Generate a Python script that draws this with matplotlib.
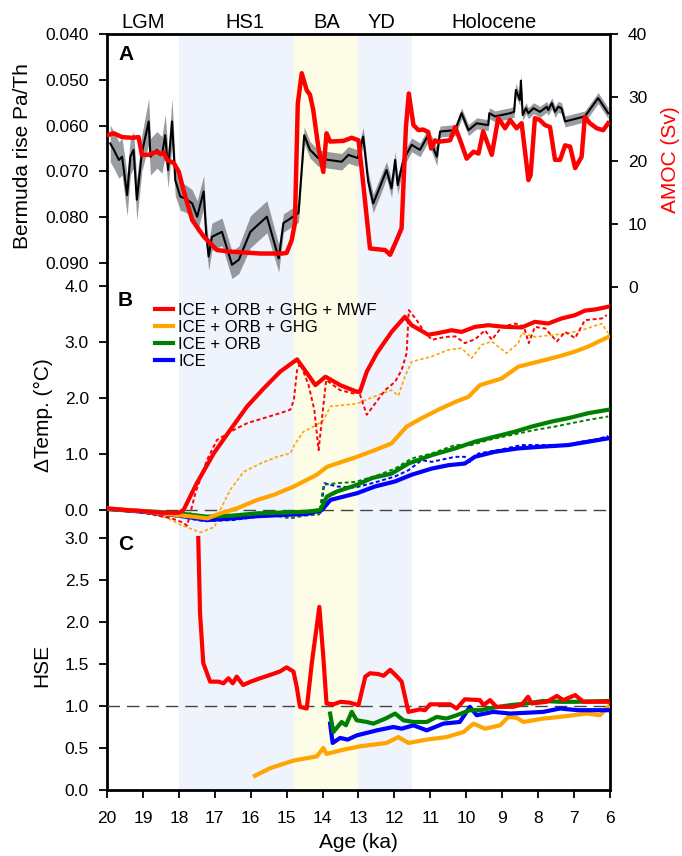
import matplotlib
matplotlib.use('Agg')
import matplotlib.pyplot as plt
import matplotlib.transforms as mtransforms

plt.rcParams['font.family'] = ['Liberation Sans', 'DejaVu Sans']

# ---- panel A: Bermuda rise Pa/Th (left, inverted) and AMOC (right)
pa_age = [19.91, 19.81, 19.67, 19.58, 19.44, 19.35, 19.26, 19.17, 19.03, 18.84, 18.79, 18.61,
          18.47, 18.38, 18.30, 18.19, 18.10, 17.96, 17.82, 17.63, 17.49, 17.31, 17.24, 17.17,
          17.08, 16.80, 16.52, 16.33, 16.01, 15.55, 15.22, 15.09, 14.67, 14.51, 14.35, 14.12,
          13.84, 13.47, 13.28, 13.02, 12.87, 12.73, 12.59, 12.40, 12.22, 12.08, 11.98, 11.91,
          11.75, 11.52, 11.29, 11.06, 10.82, 10.73, 10.31, 10.13, 9.94, 9.71, 9.39, 9.36, 9.20,
          8.78, 8.67, 8.62, 8.51, 8.48, 8.43, 8.34, 8.27, 8.13, 7.95, 7.76, 7.72, 7.62, 7.53,
          7.44, 7.35, 7.25, 6.70, 6.33, 6.05]
pa_th = [0.0639, 0.0653, 0.0675, 0.0668, 0.0752, 0.0668, 0.0653, 0.0762, 0.0660, 0.0591, 0.0668,
         0.0653, 0.0664, 0.0621, 0.0697, 0.0591, 0.0719, 0.0755, 0.0759, 0.0770, 0.0799, 0.0744,
         0.0835, 0.0886, 0.0843, 0.0832, 0.0904, 0.0893, 0.0832, 0.0799, 0.0890, 0.0813, 0.0791,
         0.0621, 0.0653, 0.0671, 0.0675, 0.0679, 0.0664, 0.0671, 0.0624, 0.0722, 0.0770, 0.0733,
         0.0697, 0.0737, 0.0675, 0.0730, 0.0675, 0.0642, 0.0653, 0.0621, 0.0668, 0.0613, 0.0610,
         0.0573, 0.0610, 0.0595, 0.0599, 0.0573, 0.0580, 0.0573, 0.0570, 0.0522, 0.0544, 0.0502,
         0.0577, 0.0562, 0.0573, 0.0562, 0.0570, 0.0559, 0.0566, 0.0551, 0.0570, 0.0559, 0.0562,
         0.0591, 0.0580, 0.0540, 0.0573]
pa_err = [0.0040, 0.0040, 0.0040, 0.0040, 0.0045, 0.0040, 0.0040, 0.0045, 0.0040, 0.0050, 0.0040,
          0.0040, 0.0040, 0.0045, 0.0040, 0.0050, 0.0035, 0.0030, 0.0030, 0.0030, 0.0035, 0.0035,
          0.0030, 0.0030, 0.0030, 0.0030, 0.0030, 0.0030, 0.0035, 0.0035, 0.0030, 0.0020, 0.0020,
          0.0018, 0.0018, 0.0018, 0.0018, 0.0018, 0.0018, 0.0018, 0.0020, 0.0020, 0.0020, 0.0020,
          0.0018, 0.0020, 0.0018, 0.0020, 0.0015, 0.0015, 0.0015, 0.0015, 0.0020, 0.0012, 0.0012,
          0.0012, 0.0012, 0.0012, 0.0012, 0.0012, 0.0012, 0.0012, 0.0012, 0.0015, 0.0012, 0.0015,
          0.0012, 0.0012, 0.0012, 0.0012, 0.0012, 0.0012, 0.0012, 0.0012, 0.0012, 0.0012, 0.0012,
          0.0012, 0.0012, 0.0012, 0.0012]

amoc_age = [20.0, 19.81, 19.58, 19.30, 19.12, 19.03, 18.85, 18.61, 18.50, 18.42, 18.33, 18.14,
            18.0, 17.87, 17.63, 17.31, 16.94, 16.57, 15.73, 15.13, 15.0, 14.86, 14.77, 14.69,
            14.58, 14.44, 14.35, 14.26, 14.12, 13.98, 13.89, 13.79, 13.42, 13.19, 13.0, 12.87,
            12.68, 12.26, 12.12, 11.94, 11.80, 11.68, 11.60, 11.47, 11.33, 11.20, 11.06, 10.98,
            10.87, 10.78, 10.73, 10.45, 10.31, 10.17, 9.99, 9.80, 9.66, 9.53, 9.29, 9.11, 8.92,
            8.78, 8.60, 8.46, 8.27, 8.21, 8.09, 7.95, 7.81, 7.67, 7.53, 7.39, 7.25, 7.11, 6.97,
            6.79, 6.70, 6.56, 6.37, 6.19, 6.05]
amoc_sv = [24.0, 24.3, 23.7, 23.6, 23.7, 20.9, 20.9, 21.4, 21.0, 21.3, 20.1, 19.6,
           18.2, 15.3, 10.6, 8.0, 5.85, 5.6, 5.3, 5.3, 5.4, 7.4, 10.1, 29.0,
           33.8, 31.1, 30.4, 28.0, 22.2, 18.2, 24.3, 23.0, 23.1, 23.6, 23.2, 16.4,
           6.1, 5.85, 5.1, 7.4, 9.3, 25.3, 30.6, 25.6, 24.8, 24.9, 24.5, 21.9,
           23.2, 22.9, 23.0, 23.2, 25.3, 23.2, 20.3, 21.4, 21.1, 24.6, 20.9, 26.7, 25.1,
           26.4, 25.1, 25.9, 16.9, 17.7, 26.7, 26.4, 25.6, 25.3, 20.1, 20.1, 22.4, 22.2, 18.8,
           20.6, 26.9, 25.9, 25.1, 24.8, 25.9]

# ---- panel B: temperature change, solid = model, dotted = second estimate
b_red_age = [20.0, 19.5, 19.0, 18.5, 18.0, 17.87, 17.5, 17.03, 16.57, 16.1, 15.64, 15.18, 14.71,
             14.43, 14.2, 13.92, 13.51, 13.04, 12.96, 12.77, 12.49, 12.08, 11.71, 11.52, 11.06,
             10.78, 10.41, 10.13, 9.76, 9.39, 8.92, 8.46, 8.09, 7.72, 7.35, 6.97, 6.70, 6.42, 6.05]
b_red = [0.03, 0.0, -0.02, -0.05, -0.05, 0.0, 0.48, 1.01, 1.43, 1.85, 2.17, 2.47, 2.69,
         2.44, 2.23, 2.38, 2.23, 2.11, 2.11, 2.47, 2.80, 3.18, 3.45, 3.30, 3.13,
         3.16, 3.21, 3.18, 3.27, 3.30, 3.27, 3.26, 3.36, 3.33, 3.42, 3.48, 3.56, 3.58, 3.63]

b_red_d_age = [20.0, 19.5, 19.0, 18.6, 18.2, 17.9, 17.77, 17.54, 17.22, 16.94, 16.47, 16.1, 15.64,
               15.18, 14.9, 14.8, 14.71, 14.62, 14.39, 14.23, 14.11, 13.99, 13.9, 13.51, 13.14,
               13.0, 12.77, 12.54, 12.26, 11.98, 11.8, 11.66, 11.6, 11.38, 11.2, 10.96, 10.59,
               10.3, 10.04, 9.75, 9.48, 9.29, 9.01, 8.64, 8.4, 8.26, 8.09, 7.8, 7.48, 7.25, 6.97,
               6.70, 6.4, 6.23, 6.09]
b_red_d = [0.03, -0.02, -0.05, -0.1, -0.15, -0.22, -0.28, 0.30, 0.89, 1.25, 1.43, 1.55, 1.64,
           1.73, 1.79, 1.96, 2.5, 2.62, 2.23, 1.79, 1.07, 1.79, 2.32, 2.14, 2.08,
           2.14, 1.70, 1.90, 2.14, 2.29, 2.5, 2.80, 3.57, 3.39, 3.21, 3.04, 3.09,
           3.1, 2.98, 3.05, 3.21, 3.04, 3.27, 3.33, 3.28, 2.98, 3.27, 3.24, 3.01, 3.18, 3.07,
           3.39, 3.41, 3.42, 3.48]

b_org_age = [20.0, 19.0, 18.2, 17.59, 17.2, 16.85, 16.38, 15.82, 15.36, 14.8, 14.16, 13.88, 13.32,
             13.04, 12.54, 12.08, 11.66, 11.24, 10.78, 10.31, 9.94, 9.62, 9.01, 8.55, 7.99,
             7.44, 6.97, 6.60, 6.05]
b_org = [0.03, -0.02, -0.08, -0.12, -0.15, -0.06, 0.03, 0.18, 0.27, 0.42, 0.63, 0.77, 0.89,
         0.95, 1.07, 1.19, 1.49, 1.64, 1.79, 1.93, 2.02, 2.23, 2.35, 2.56, 2.65,
         2.74, 2.83, 2.92, 3.09]

b_org_d_age = [20.0, 19.0, 18.3, 17.9, 17.4, 17.0, 16.85, 16.57, 16.2, 15.73, 15.27, 14.9, 14.76,
               14.53, 14.16, 13.97, 13.78, 13.32, 13.04, 12.82, 12.35, 12.08, 11.89, 11.71, 11.52,
               10.96, 10.5, 10.13, 9.85, 9.57, 9.29, 8.88, 8.55, 8.46, 8.09, 7.53, 7.16, 6.79,
               6.23, 6.05]
b_org_d = [0.03, -0.03, -0.15, -0.28, -0.4, -0.3, 0.0, 0.36, 0.68, 0.83, 0.95, 1.01, 1.19,
           1.40, 1.52, 1.61, 1.85, 1.88, 1.90, 1.96, 2.08, 2.14, 2.04, 2.38, 2.65,
           2.74, 2.86, 2.89, 2.71, 2.95, 3.01, 2.80, 2.98, 3.16, 3.09, 3.13, 3.16, 3.21,
           3.33, 3.16]

b_grn_age = [20.0, 19.0, 18.0, 17.22, 16.5, 15.82, 14.43, 14.06, 13.88, 13.6, 13.04, 12.63, 12.08,
             11.61, 10.96, 10.31, 9.76, 9.2, 8.64, 8.18, 7.62, 7.16, 6.6, 6.05]
b_grn = [0.02, -0.02, -0.06, -0.12, -0.1, -0.06, -0.03, 0.0, 0.24, 0.33, 0.45, 0.57, 0.65,
         0.83, 0.98, 1.10, 1.22, 1.31, 1.40, 1.49, 1.58, 1.64, 1.73, 1.79]

b_grn_d_age = [20.0, 19.0, 18.0, 17.2, 16.5, 15.5, 14.9, 14.5, 14.1, 13.97, 13.6, 13.1, 12.55,
               11.98, 11.52, 10.96, 10.31, 9.85, 9.39, 8.74, 8.09, 7.53, 7.07, 6.6, 6.05]
b_grn_d = [0.02, -0.03, -0.1, -0.15, -0.12, -0.08, -0.15, -0.1, -0.08, 0.45, 0.48, 0.5, 0.6,
           0.74, 0.92, 1.01, 1.16, 1.16, 1.25, 1.34, 1.43, 1.49, 1.55, 1.61, 1.67]

b_blu_age = [20.0, 19.0, 18.0, 17.22, 16.5, 15.82, 14.43, 14.02, 13.78, 13.04, 12.54, 11.98, 11.52,
             10.96, 10.5, 10.04, 9.76, 9.2, 8.55, 7.9, 7.16, 6.6, 6.05]
b_blu = [0.02, -0.03, -0.1, -0.18, -0.15, -0.11, -0.07, 0.0, 0.18, 0.30, 0.42, 0.51, 0.63,
         0.74, 0.80, 0.83, 0.95, 1.04, 1.10, 1.13, 1.16, 1.22, 1.28]

b_blu_d_age = [20.0, 19.0, 18.0, 17.3, 16.5, 15.8, 14.5, 14.05, 13.95, 13.6, 13.1, 12.5, 11.98,
               11.61, 11.24, 10.96, 10.31, 10.04, 9.9, 9.66, 9.11, 8.46, 7.9, 7.16, 6.79, 6.4, 6.05]
b_blu_d = [0.02, -0.05, -0.12, -0.2, -0.18, -0.12, -0.08, -0.05, 0.48, 0.42, 0.40, 0.5, 0.6,
           0.71, 0.89, 0.86, 0.95, 0.95, 0.86, 1.01, 1.07, 1.16, 1.16, 1.16, 1.22, 1.26, 1.32]

# ---- panel C: HSE
c_red_age = [17.46, 17.41, 17.32, 17.13, 16.9, 16.76, 16.62, 16.5, 16.39, 16.21, 16.0, 15.74, 15.46,
             15.19, 15.0, 14.81, 14.72, 14.63, 14.44, 14.30, 14.09, 13.98, 13.89, 13.7, 13.5,
             13.25, 13.0, 12.81, 12.68, 12.45, 12.3, 12.12, 11.95, 11.8, 11.61, 11.29, 11.15,
             11.01, 10.45, 10.27, 10.04, 9.62, 9.52, 9.34, 9.16, 8.69, 8.45, 8.28, 8.18, 7.76,
             7.48, 7.3, 6.97, 6.74, 6.05]
c_red = [3.0, 2.10, 1.51, 1.29, 1.29, 1.27, 1.33, 1.27, 1.35, 1.25, 1.29, 1.33, 1.37,
         1.41, 1.46, 1.41, 1.23, 0.99, 0.97, 1.51, 2.18, 1.59, 1.03, 1.02, 1.05,
         1.04, 1.01, 1.35, 1.39, 1.38, 1.36, 1.43, 1.36, 1.29, 0.93, 0.96, 0.95,
         1.02, 1.02, 0.97, 1.08, 1.07, 1.01, 1.07, 0.99, 0.99, 1.02, 1.11, 1.03, 1.05,
         1.12, 1.07, 1.13, 1.05, 1.05]

c_grn_age = [13.79, 13.70, 13.47, 13.35, 13.19, 13.05, 12.77, 12.59, 12.25, 11.98, 11.75, 11.47,
             11.1, 10.82, 10.55, 10.27, 9.9, 9.6, 9.25, 8.78, 8.32, 7.86, 7.4, 6.93, 6.05]
c_grn = [0.91, 0.69, 0.81, 0.77, 0.93, 0.83, 0.81, 0.79, 0.85, 0.91, 0.83, 0.81,
         0.81, 0.87, 0.85, 0.89, 0.95, 0.95, 0.98, 1.01, 1.03, 1.06, 1.05, 1.05, 1.06]

c_blu_age = [13.79, 13.72, 13.51, 13.3, 13.05, 12.49, 12.03, 11.8, 11.47, 11.1, 10.64, 10.18,
             9.9, 9.71, 9.25, 8.78, 8.3, 7.86, 7.39, 6.9, 6.46, 6.05]
c_blu = [0.79, 0.56, 0.62, 0.60, 0.65, 0.71, 0.75, 0.73, 0.77, 0.71, 0.79, 0.81,
         0.99, 0.89, 0.93, 0.91, 0.92, 0.93, 0.97, 0.95, 0.95, 0.95]

c_org_age = [15.88, 15.46, 14.81, 14.16, 13.98, 13.89, 13.42, 12.96, 12.22, 11.89, 11.61, 11.1,
             10.55, 10.08, 9.8, 9.48, 9.06, 8.83, 8.6, 8.41, 7.86, 7.4, 6.65, 6.28, 6.05]
c_org = [0.17, 0.26, 0.35, 0.40, 0.50, 0.43, 0.48, 0.52, 0.56, 0.63, 0.56, 0.60,
         0.63, 0.69, 0.79, 0.73, 0.77, 0.87, 0.86, 0.81, 0.85, 0.87, 0.91, 0.89, 0.99]

periods = ['LGM', 'HS1', 'BA', 'YD', 'Holocene']
period_pos = [19.0, 16.16, 13.88, 12.35, 9.23]

W, H = 682, 856
fig = plt.figure(figsize=(W / 100, H / 100), dpi=100)
rect = [107 / W, 1 - 790 / H, (610 - 107) / W, (790 - 34) / H]

ax0 = fig.add_axes(rect)
ax0.set_xlim(20, 6)
ax0.set_ylim(0, 1)
ax0.axvspan(18.0, 14.8, color='#eef3fc', lw=0)
ax0.axvspan(14.8, 13.0, color='#fdfce6', lw=0)
ax0.axvspan(13.0, 11.5, color='#eef3fc', lw=0)
ax0.set_yticks([])
ax0.set_xticks(range(20, 5, -1))
ax0.tick_params(axis='x', direction='out', length=6, width=1.3, labelsize=12.5, pad=9)
for s in ax0.spines.values():
    s.set_linewidth(2)
ax0.set_xlabel('Age (ka)', fontsize=15, labelpad=5)

trans = mtransforms.blended_transform_factory(ax0.transData, fig.transFigure)
for name, xp in zip(periods, period_pos):
    fig.text(xp, 1 - 22 / H, name, transform=trans, ha='center', va='center', fontsize=14.5)


def overlay(ylim):
    ax = fig.add_axes(rect, facecolor='none')
    ax.set_xlim(20, 6)
    ax.set_ylim(*ylim)
    ax.set_xticks([])
    for s in ax.spines.values():
        s.set_visible(False)
    ax.tick_params(axis='y', direction='out', length=6, width=1.3, labelsize=12.5, pad=7)
    return ax


# panel A
axA = overlay((0.2051, 0.040))
lo = [v - e for v, e in zip(pa_th, pa_err)]
hi = [v + e for v, e in zip(pa_th, pa_err)]
axA.fill_between(pa_age, lo, hi, color='#555a63', alpha=0.6, lw=0)
axA.plot(pa_age, pa_th, color='black', lw=1.5)
axA.set_yticks([0.04, 0.05, 0.06, 0.07, 0.08, 0.09])
axA.set_yticklabels(['0.040', '0.050', '0.060', '0.070', '0.080', '0.090'])

axA2 = axA.twinx()
axA2.set_ylim(-79.5, 40)
for s in axA2.spines.values():
    s.set_visible(False)
axA2.plot(amoc_age, amoc_sv, color='#ff0000', lw=3.2)
axA2.set_yticks([0, 10, 20, 30, 40])
axA2.tick_params(axis='y', direction='out', length=6, width=1.3, labelsize=12.5, pad=7)

# panel B
axB = overlay((-5, 8.5))
axB.axhline(0, color='#444444', lw=1, dashes=(9, 5))
dot = (0, (2, 1.4))
axB.plot(b_blu_d_age, b_blu_d, color='blue', lw=1.4, ls=dot)
axB.plot(b_grn_d_age, b_grn_d, color='green', lw=1.4, ls=dot)
axB.plot(b_org_d_age, b_org_d, color='orange', lw=1.2, ls=dot)
axB.plot(b_red_d_age, b_red_d, color='red', lw=1.4, ls=dot)
axB.plot(b_blu_age, b_blu, color='blue', lw=3, label='ICE')
axB.plot(b_grn_age, b_grn, color='green', lw=3, label='ICE + ORB')
axB.plot(b_org_age, b_org, color='orange', lw=3, label='ICE + ORB + GHG')
axB.plot(b_red_age, b_red, color='red', lw=3, label='ICE + ORB + GHG + MWF')
axB.set_yticks([0, 1, 2, 3, 4])
axB.set_yticklabels(['0.0', '1.0', '2.0', '3.0', '4.0'])
hd, lb = axB.get_legend_handles_labels()
axB.legend(hd[::-1], lb[::-1], loc='upper left', bbox_to_anchor=(155 / W, 1 - 303 / H),
           bbox_transform=fig.transFigure, frameon=False, fontsize=12, handlelength=1.1,
           handletextpad=0.3, labelspacing=0.12, borderpad=0, borderaxespad=0)

# panel C
axC = overlay((0, 9))
axC.axhline(1.0, color='#444444', lw=1, dashes=(9, 5))
axC.plot(c_org_age, c_org, color='orange', lw=3)
axC.plot(c_blu_age, c_blu, color='blue', lw=3)
axC.plot(c_grn_age, c_grn, color='green', lw=3)
axC.plot(c_red_age, c_red, color='red', lw=3)
axC.set_yticks([0, 0.5, 1.0, 1.5, 2.0, 2.5, 3.0])
axC.set_yticklabels(['0.0', '0.5', '1.0', '1.5', '2.0', '2.5', '3.0'])

# panel letters and axis titles
for letter, yp in zip(['A', 'B', 'C'], [54, 300, 545]):
    fig.text(118 / W, 1 - yp / H, letter, ha='left', va='center', fontsize=15, fontweight='bold')
fig.text(23 / W, 1 - 156 / H, 'Bermuda rise Pa/Th', rotation=90, ha='center', va='center', fontsize=15)
fig.text(671 / W, 1 - 160 / H, 'AMOC (Sv)', rotation=90, ha='center', va='center', fontsize=15, color='#ff0000')
fig.text(43 / W, 1 - 415 / H, 'ΔTemp. (°C)', rotation=90, ha='center', va='center', fontsize=15)
fig.text(42 / W, 1 - 665 / H, 'HSE', rotation=90, ha='center', va='center', fontsize=15)

fig.savefig('out.png', dpi=100)
